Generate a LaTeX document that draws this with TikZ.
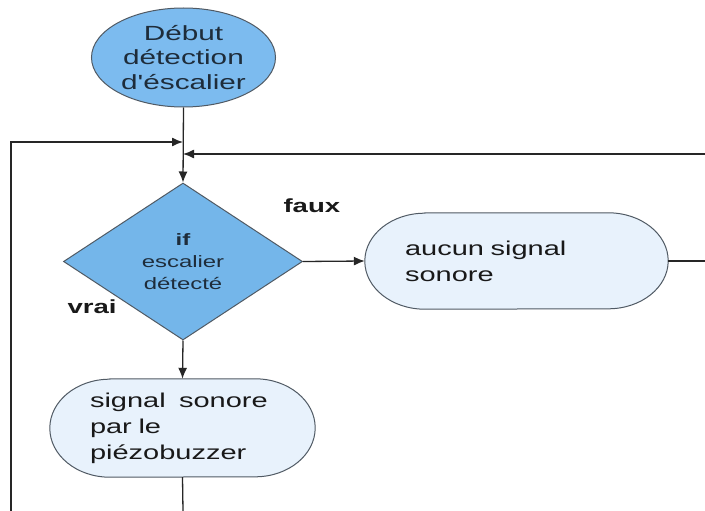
\documentclass[tikz,border=0pt]{standalone}
\usepackage{fontspec}
\setmainfont{Liberation Sans}[FakeStretch=1.45,Ligatures=TeXOff]
\usetikzlibrary{shapes.geometric,arrows.meta,backgrounds}
\definecolor{ellfill}{HTML}{7CBBEF}
\definecolor{diafill}{HTML}{74B6EA}
\definecolor{boxfill}{HTML}{E8F2FC}
\definecolor{bordergray}{HTML}{505A64}
\definecolor{txtdark}{HTML}{1E2C3A}
\tikzset{
  conn/.style={line width=1.3pt, draw=black!85},
  arr/.style={conn, -{Latex[length=11pt,width=9pt]}},
  startell/.style={ellipse, draw=bordergray, line width=1pt, fill=ellfill,
    minimum width=184pt, minimum height=99pt, inner sep=0pt, align=center,
    text=txtdark, font=\fontsize{20.5}{24.5}\selectfont},
  decision/.style={diamond, draw=bordergray, line width=1pt, fill=diafill,
    minimum width=239pt, minimum height=157pt, aspect=1.52, inner sep=0pt,
    align=center, text=txtdark, font=\fontsize{16.5}{22}\selectfont},
  actbox/.style={rectangle, draw=none, inner ysep=0pt, align=left,
    text=black!90, font=\fontsize{20}{26}\selectfont},
  stad/.style={draw=bordergray, line width=1pt, fill=boxfill},
  branch/.style={font=\bfseries\fontsize{19}{22}\selectfont, text=black!90}
}
\begin{document}
\begin{tikzpicture}[x=1pt,y=1pt]
\useasboundingbox (0,0) rectangle (705,-511);

\node[startell] (start) at (183.5,-57.5) {Début\\détection\\d'éscalier};
\node[decision] (dec) at (183,-261.5) {\textbf{if}\\escalier\\détecté};
\node[actbox, text width=223pt, inner xsep=40pt, minimum height=96pt] (none) at (516.5,-261) {aucun signal\\sonore};
\node[actbox, text width=185pt, inner xsep=40pt, minimum height=98pt] (buzz) at (182.5,-428) {signal~ sonore\\par le\\piézobuzzer};

\node[branch, anchor=base west] (faux) at (280,-212) {faux};
\node[branch, anchor=base west] (vrai) at (64,-313) {vrai};

\begin{pgfonlayer}{background}
\fill[white] (0,0) rectangle (705,-511);
\path[stad] ([xshift=60pt]none.north west) -- ([xshift=-60pt]none.north east)
  arc[start angle=90, end angle=-90, x radius=60pt, y radius=48pt]
  -- ([xshift=60pt]none.south west)
  arc[start angle=-90, end angle=-270, x radius=60pt, y radius=48pt] -- cycle;
\path[stad] ([xshift=60pt]buzz.north west) -- ([xshift=-60pt]buzz.north east)
  arc[start angle=90, end angle=-90, x radius=60pt, y radius=49pt]
  -- ([xshift=60pt]buzz.south west)
  arc[start angle=-90, end angle=-270, x radius=60pt, y radius=49pt] -- cycle;
\end{pgfonlayer}

\coordinate (jl) at (183,-142);
\coordinate (jr) at (183,-154);
\coordinate (lb) at (11,-511);
\coordinate (rb) at (705,-154);
\coordinate (re) at (705,-261);
\coordinate (bb) at (183,-511);

\draw[arr] (start.south) -- (dec.north);
\draw[arr] (lb) |- (jl);
\draw[arr] (rb) -- (jr);
\draw[arr] (dec.east) -- (none.west);
\draw[conn] (none.east) -- (re);
\draw[arr] (dec.south) -- (buzz.north);
\draw[conn] (buzz.south) -- (bb);
\end{tikzpicture}
\end{document}
